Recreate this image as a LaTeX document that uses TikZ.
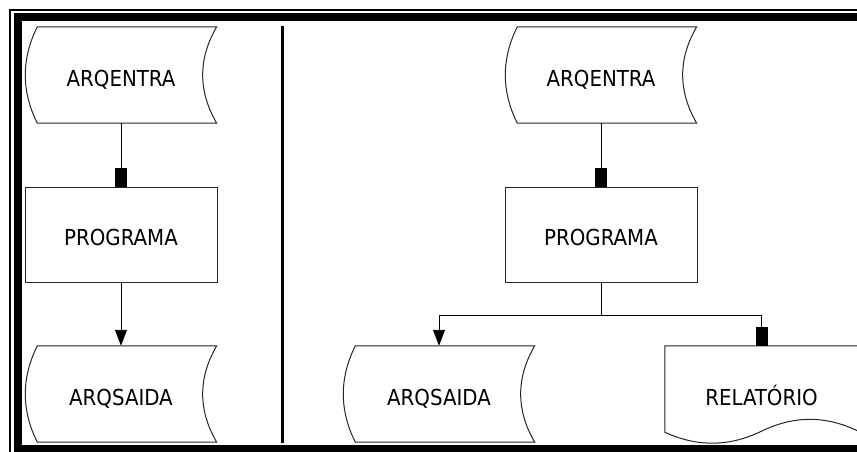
\documentclass[tikz,border=0pt]{standalone}
\usepackage{fontspec}
\setmainfont{DejaVu Sans Condensed}
\usetikzlibrary{arrows.meta,calc}

\tikzset{
  outline/.style={draw=black!85, line width=1pt},
  link/.style={draw=black, line width=0.9pt},
  boxlabel/.style={font=\fontsize{22}{26}\selectfont, inner sep=0pt,
    text height=22.5pt, text depth=0pt},
  stored/.style={boxlabel, minimum width=191pt, minimum height=96pt},
  procbox/.style={boxlabel, outline, minimum width=192pt, minimum height=95pt},
  docbox/.style={boxlabel, minimum width=193pt, minimum height=96pt},
  totri/.style={link, -{Triangle[length=16pt,width=12pt]}},
  tosq/.style={link, -{Rectangle[length=19pt,width=12pt]}},
  thinframe/.style={draw=black, line width=2.5pt},
  thickframe/.style={draw=black, line width=8pt},
  divider/.style={draw=black, line width=3pt}
}

% stored-data outline: convex arc on the left, concave arc on the right
\newcommand\storedoutline[1]{%
  \draw[outline] ([xshift=12pt]#1.north west) -- (#1.north east)
    .. controls ([xshift=-18.7pt,yshift=-32pt]#1.north east)
           and ([xshift=-18.7pt,yshift=32pt]#1.south east) .. (#1.south east)
    -- ([xshift=12pt]#1.south west)
    .. controls ([xshift=-4pt,yshift=32pt]#1.south west)
           and ([xshift=-4pt,yshift=-32pt]#1.north west) .. cycle;}

% document outline: straight top and sides, wavy bottom
\newcommand\docoutline[1]{%
  \draw[outline] ([yshift=11pt]#1.south east) -- (#1.north east) -- (#1.north west)
    -- ([yshift=10pt]#1.south west)
    .. controls ([xshift=32pt,yshift=-4.8pt]#1.south west)
           and ([xshift=64pt,yshift=-4.8pt]#1.south west) .. ([yshift=11pt]#1.south)
    .. controls ([xshift=32.5pt,yshift=26.8pt]#1.south)
           and ([xshift=64.5pt,yshift=26.8pt]#1.south) .. ([yshift=11pt]#1.south east);}

\begin{document}
\begin{tikzpicture}[x=1pt,y=-1pt]
  \useasboundingbox (0,0) rectangle (857,452);
  \fill[white] (0,0) rectangle (857,452);
  \clip (0,0) rectangle (857,452);

  % double frame
  \draw[thinframe] (10,470) -- (10,10) -- (880,10);
  \draw[thickframe] (17.5,449) -- (17.5,17.5) -- (880,17.5);
  \draw[thickframe] (13.5,449) -- (880,449);

  % panel divider
  \draw[divider] (282,26) -- (282,443);

  % left panel
  \node[stored]  (ae1) at (121,75)    {ARQENTRA};
  \node[procbox] (pg1) at (121,234.5) {PROGRAMA};
  \node[stored]  (as1) at (121,394)   {ARQSAIDA};
  \storedoutline{ae1}
  \storedoutline{as1}
  \draw[tosq]  (ae1) -- (pg1);
  \draw[totri] (pg1) -- (as1);

  % right panel
  \node[stored]  (ae2) at (601,75)    {ARQENTRA};
  \node[procbox] (pg2) at (601,234.5) {PROGRAMA};
  \node[stored]  (as2) at (439,394)   {ARQSAIDA};
  \node[docbox]  (rel) at (761.5,394) {RELATÓRIO};
  \storedoutline{ae2}
  \storedoutline{as2}
  \docoutline{rel}
  \coordinate (split) at ($(pg2.south)+(0,32.5)$);
  \draw[tosq]  (ae2) -- (pg2);
  \draw[totri] (pg2.south) -- (split) -| (as2.north);
  \draw[tosq]  (split) -| (rel.north);
\end{tikzpicture}
\end{document}
